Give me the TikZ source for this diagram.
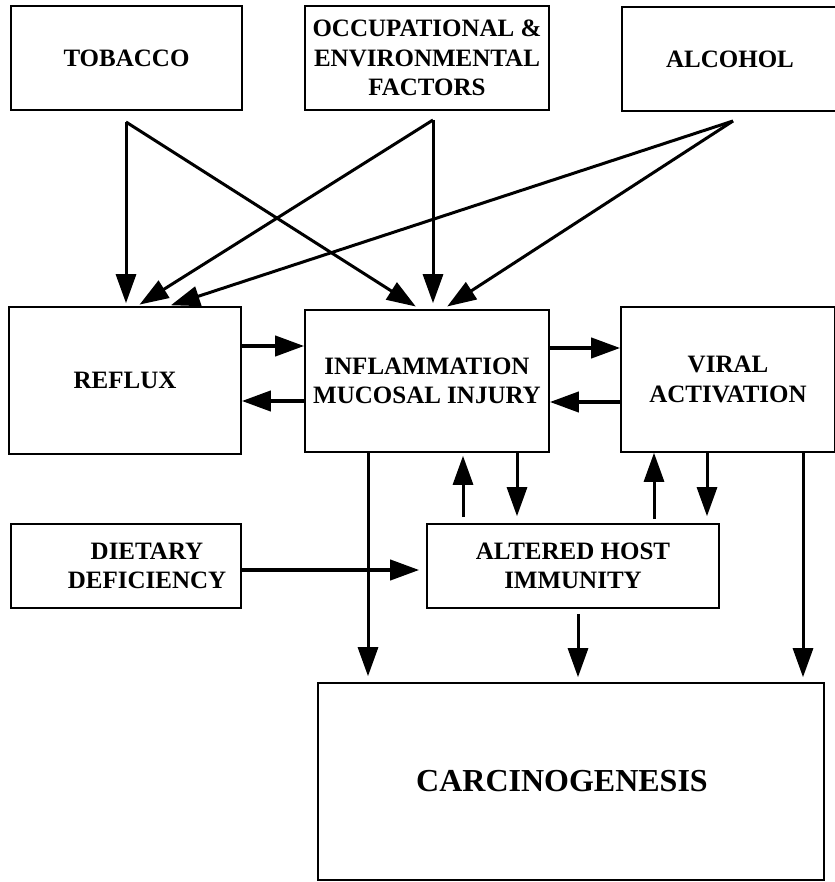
\documentclass[tikz,border=0pt]{standalone}
\usepackage{fontspec}
\setmainfont{Liberation Serif}
\usetikzlibrary{arrows.meta}
\begin{document}
\begin{tikzpicture}[x=1pt,y=-1pt,
  box/.style={draw, line width=1.6pt, inner sep=0pt, align=center,
    font=\bfseries\fontsize{25}{29.5}\selectfont},
  arr/.style={line width=3pt, -{Triangle[length=29pt,width=20pt]}},
  harr/.style={line width=4pt, -{Triangle[length=29pt,width=20pt]}}]
\useasboundingbox (0,0) rectangle (834,882);
\fill[white] (0,0) rectangle (834,882);

% boxes
\node[box, minimum width=231pt, minimum height=104pt] (tob) at (126.5,58) {TOBACCO};
\node[box, minimum width=244pt, minimum height=104pt] (occ) at (427,58) {OCCUPATIONAL \&\\ENVIRONMENTAL\\FACTORS};
\node[box, minimum width=216pt, minimum height=104pt] (alc) at (730,59) {ALCOHOL};
\node[box, minimum width=232pt, minimum height=147pt] (reflux) at (125,380.5) {REFLUX};
\node[box, minimum width=244pt, minimum height=142pt] (inflam) at (427,381) {INFLAMMATION\\MUCOSAL INJURY};
\node[box, minimum width=214pt, minimum height=145pt] (viral) at (728,379.5) {VIRAL\\ACTIVATION};
\node[box, minimum width=230pt, minimum height=84pt] (diet) at (126,566) {\hspace*{42pt}DIETARY\\\hspace*{42pt}DEFICIENCY};
\node[box, minimum width=292pt, minimum height=84pt] (alt) at (573,566) {ALTERED HOST\\IMMUNITY};
\node[box, minimum width=506pt, minimum height=197pt, font=\bfseries\fontsize{32}{36}\selectfont] (carc) at (571,781.5) {\hspace*{-18pt}CARCINOGENESIS};

% arrow sources below the top boxes
\coordinate (ts) at (126,122);
\coordinate (os) at (433,120);
\coordinate (as) at (733,121);

\draw[arr, shorten >=3pt] (ts) -- (ts |- reflux.north);
\draw[arr, shorten >=5pt] (ts) -- ([xshift=-7pt]inflam.north);
\draw[arr, shorten >=3pt] (os) -- ([xshift=12pt]reflux.north);
\draw[arr, shorten >=6pt] (os) -- (os |- inflam.north);
\draw[arr, shorten >=3pt] (as) -- ([xshift=43pt]reflux.north);
\draw[arr, shorten >=5pt] (as) -- ([xshift=16pt]inflam.north);

% horizontal connectors
\coordinate (h1) at (0,346);
\coordinate (h2) at (0,401);
\coordinate (h3) at (0,348);
\coordinate (h4) at (0,402);
\coordinate (h5) at (0,570);
\draw[harr] (reflux.east |- h1) -- (inflam.west |- h1);
\draw[harr] (inflam.west |- h2) -- (reflux.east |- h2);
\draw[harr] (inflam.east |- h3) -- (viral.west |- h3);
\draw[harr] (viral.west |- h4) -- (inflam.east |- h4);
\draw[harr, shorten >=7pt] (diet.east |- h5) -- (alt.west |- h5);

% vertical connectors
\coordinate (v1) at (368,0);
\coordinate (v2) at (463,0);
\coordinate (v3) at (517,0);
\coordinate (v4) at (654,0);
\coordinate (v5) at (707,0);
\coordinate (v6) at (803,0);
\coordinate (v7) at (578,0);
\draw[arr, shorten >=6pt] (inflam.south -| v1) -- (carc.north -| v1);
\draw[arr, shorten <=6pt, shorten >=3pt] (alt.north -| v2) -- (inflam.south -| v2);
\draw[arr, shorten >=7pt] (inflam.south -| v3) -- (alt.north -| v3);
\draw[arr, shorten <=4pt] (alt.north -| v4) -- (viral.south -| v4);
\draw[arr, shorten >=7pt] (viral.south -| v5) -- (alt.north -| v5);
\draw[arr, shorten >=5pt] (viral.south -| v6) -- (carc.north -| v6);
\draw[arr, shorten <=5pt, shorten >=5pt] (alt.south -| v7) -- (carc.north -| v7);
\end{tikzpicture}
\end{document}
